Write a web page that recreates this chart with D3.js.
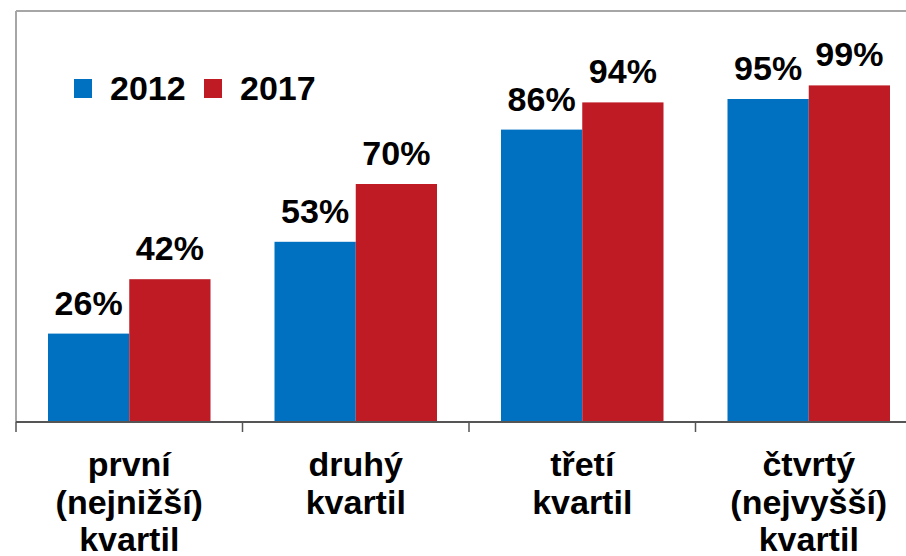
<!DOCTYPE html>
<html>
<head>
<meta charset="utf-8">
<script src="https://cdn.jsdelivr.net/npm/d3@7"></script>
<style>
  body { margin: 0; background: #fff; }
  svg { display: block; font-family: "Liberation Sans", Arial, sans-serif; font-weight: bold; }
</style>
</head>
<body>
<div id="chart"></div>
<script>
// quartile categories (each label split into lines)
const categories = [
    ['první', '(nejnižší)', 'kvartil'],
    ['druhý', 'kvartil'],
    ['třetí', 'kvartil'],
    ['čtvrtý', '(nejvyšší)', 'kvartil']
];
const years = ['2012', '2017'];
const values2012 = [26, 53, 86, 95];
const values2017 = [42, 70, 94, 99];

const width = 906;
const height = 556;
const colors = { '2012': '#0070C0', '2017': '#BE1B25' };
const fontSize = 34;

const svg = d3.select("#chart")
    .append("svg")
    .attr("width", width)
    .attr("height", height);

// plot area frame (extends past right edge, like the original)
const plotLeft = 16, plotTop = 11, plotBottom = 422;
const bandStep = 226.5;

const x = d3.scaleBand()
    .domain(d3.range(categories.length))
    .range([plotLeft, plotLeft + bandStep * categories.length])
    .paddingInner(0)
    .paddingOuter(0);

const inner = d3.scaleBand()
    .domain(years)
    .range([32, bandStep - 32]);

const y = d3.scaleLinear()
    .domain([0, 120])
    .range([plotBottom, 14]);

// frame lines
svg.append("line")
    .attr("x1", plotLeft).attr("x2", width + 10)
    .attr("y1", plotTop).attr("y2", plotTop)
    .attr("stroke", "#a6a6a6").attr("stroke-width", 2);
svg.append("line")
    .attr("x1", plotLeft).attr("x2", plotLeft)
    .attr("y1", plotTop).attr("y2", plotBottom)
    .attr("stroke", "#a6a6a6").attr("stroke-width", 2);

// bars
const rows = categories.map((c, i) => ({ i, '2012': values2012[i], '2017': values2017[i] }));

const groups = svg.selectAll("g.cat")
    .data(rows)
    .enter()
    .append("g")
    .attr("class", "cat")
    .attr("transform", d => `translate(${x(d.i)},0)`);

groups.selectAll("rect")
    .data(d => years.map(k => ({ key: k, value: d[k] })))
    .enter()
    .append("rect")
    .attr("x", d => inner(d.key))
    .attr("y", d => y(d.value))
    .attr("width", inner.bandwidth())
    .attr("height", d => y(0) - y(d.value))
    .attr("fill", d => colors[d.key]);

groups.selectAll("text.val")
    .data(d => years.map(k => ({ key: k, value: d[k] })))
    .enter()
    .append("text")
    .attr("class", "val")
    .attr("x", d => inner(d.key) + inner.bandwidth() / 2)
    .attr("y", d => y(d.value) - 19)
    .attr("text-anchor", "middle")
    .attr("font-size", fontSize)
    .attr("fill", "#000")
    .text(d => d.value + '%');

// x axis
const xAxis = svg.append("g")
    .attr("transform", `translate(0,${plotBottom})`);
xAxis.append("line")
    .attr("x1", plotLeft).attr("x2", width + 10)
    .attr("stroke", "#555").attr("stroke-width", 2);
xAxis.selectAll("line.tick")
    .data(d3.range(categories.length + 1))
    .enter()
    .append("line")
    .attr("class", "tick")
    .attr("x1", i => plotLeft + bandStep * i)
    .attr("x2", i => plotLeft + bandStep * i)
    .attr("y1", 0).attr("y2", 10)
    .attr("stroke", "#555").attr("stroke-width", 1.5);

// category labels
svg.selectAll("text.catlabel")
    .data(categories)
    .enter()
    .append("text")
    .attr("class", "catlabel")
    .attr("text-anchor", "middle")
    .attr("font-size", fontSize)
    .attr("fill", "#000")
    .each(function (lines, i) {
        d3.select(this).selectAll("tspan")
            .data(lines)
            .enter()
            .append("tspan")
            .attr("x", x(i) + x.bandwidth() / 2)
            .attr("y", (l, j) => 476 + j * 37.5)
            .text(l => l);
    });

// legend
const legend = svg.append("g").attr("transform", "translate(74,79)");
years.forEach((yr, i) => {
    legend.append("rect")
        .attr("x", i * 130).attr("y", 0)
        .attr("width", 18).attr("height", 19)
        .attr("fill", colors[yr]);
    legend.append("text")
        .attr("x", i * 130 + 36).attr("y", 21)
        .attr("font-size", fontSize)
        .attr("fill", "#000")
        .text(yr);
});
</script>
</body>
</html>
